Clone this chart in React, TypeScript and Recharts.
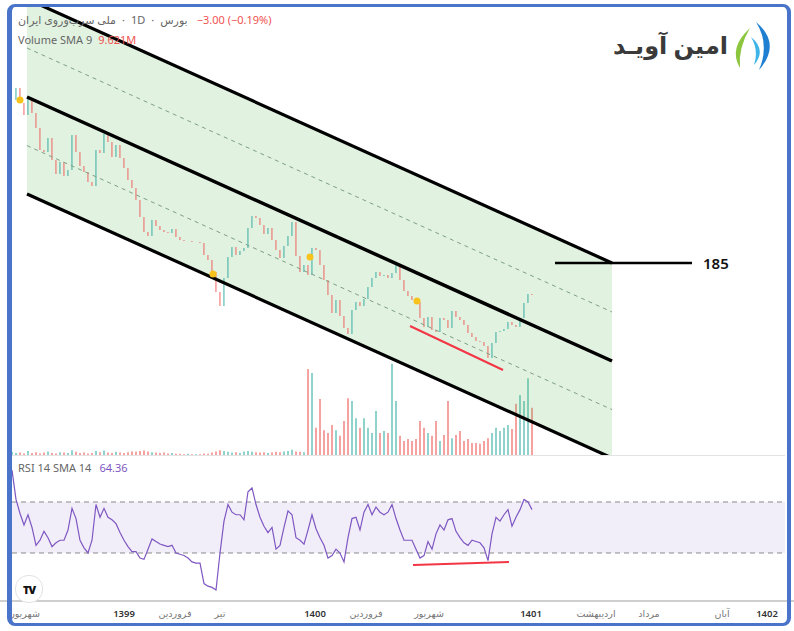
import React from "react";
import {
  Area,
  Bar,
  Cell,
  ComposedChart,
  Line,
  ReferenceArea,
  ReferenceDot,
  ReferenceLine,
  XAxis,
  YAxis,
} from "recharts";

// daily closes (one every ~4px of the original)
const closes = [
  2555, 2615, 2540, 2480, 2565, 2490, 2415, 2305, 2295, 2365,
  2255, 2185, 2245, 2175, 2205, 2380, 2295, 2225, 2195, 2145,
  2125, 2305, 2290, 2385, 2345, 2270, 2330, 2265, 2215, 2155,
  2115, 2055, 1970, 1895, 1875, 1955, 1925, 1905, 1895, 1890,
  1910, 1870, 1855, 1850, 1850, 1845, 1845, 1840, 1780, 1755,
  1695, 1595, 1525, 1665, 1770, 1820, 1780, 1800, 1815, 1915,
  1975, 1965, 1930, 1885, 1915, 1855, 1805, 1765, 1825, 1875,
  1945, 1775, 1695, 1730, 1680, 1815, 1805, 1730, 1655, 1580,
  1490, 1555, 1475, 1415, 1385, 1505, 1545, 1525, 1560, 1620,
  1665, 1695, 1675, 1680, 1665, 1690, 1735, 1655, 1600, 1575,
  1555, 1545, 1465, 1420, 1470, 1405, 1395, 1465, 1455, 1415,
  1500, 1470, 1455, 1430, 1390, 1370, 1350, 1345, 1325, 1265,
  1340, 1395, 1400, 1410, 1445, 1430, 1420, 1465, 1540, 1585,
  1580,
];

// volume in millions
const volumes = [
  0.8, 0.5, 0.6, 0.4, 1.0, 0.5, 0.7, 0.4, 0.6, 0.9,
  0.5, 0.4, 0.7, 0.6, 0.5, 1.2, 0.8, 0.5, 0.6, 0.4,
  0.5, 1.0, 0.7, 1.1, 0.6, 0.5, 0.8, 0.6, 0.5, 0.7,
  0.9, 0.8, 1.0, 1.1, 0.9, 0.7, 0.6, 0.5, 0.6, 0.4,
  0.5, 0.3, 0.3, 0.2, 0.3, 0.2, 0.2, 0.2, 0.4, 0.3,
  0.6, 0.9, 1.2, 1.0, 0.8, 0.6, 0.7, 0.5, 0.9, 1.0,
  0.8, 0.7, 0.6, 0.7, 0.5, 0.6, 0.8, 0.7, 0.9, 1.0,
  1.3, 0.9, 0.8, 0.7, 21.5, 20.5, 6.8, 14, 6.2, 5.5,
  7.5, 6.2, 4.8, 8.5, 14.2, 13.5, 9.2, 6.8, 9.2, 6.8,
  5.5, 11, 5.5, 6, 5.5, 22.8, 13.5, 4.8, 3.5, 4,
  3.5, 4, 8.5, 6.8, 5.5, 4.8, 8.5, 3.5, 5, 13.5,
  4.2, 5, 6, 3.5, 4, 3, 3, 2.8, 3.5, 4.2,
  5.5, 6.8, 6, 6.8, 7.5, 6.5, 12.8, 15, 13.5, 19.2,
  11.8,
];

const rsiValues = [
  95, 72, 61, 52, 60, 50, 36, 40, 47, 42,
  35, 38, 40, 40, 48, 65, 57, 40, 34, 30,
  40, 68, 58, 65, 58, 56, 53, 46, 40, 35,
  31, 31, 26, 25, 33, 41, 39, 37, 36, 35,
  36, 30, 29, 28, 26, 23, 22, 22, 6, 4,
  3, 1, 30, 55, 68, 62, 60, 60, 56, 78,
  81, 68, 58, 51, 46, 50, 33, 36, 50, 63,
  60, 42, 40, 37, 48, 60, 49, 42, 36, 26,
  28, 33, 30, 23, 42, 57, 58, 48, 62, 68,
  60, 66, 62, 60, 62, 68, 57, 48, 40, 40,
  40, 33, 26, 28, 39, 33, 45, 52, 48, 56,
  57, 47, 42, 38, 36, 40, 39, 38, 34, 24,
  45, 58, 55, 60, 64, 51, 58, 64, 72, 70,
  64,
];

const timeTicks = [3.25, 28, 40.75, 52, 75.75, 88.5, 104.25, 129.75, 146, 159.25, 177.5, 188.75];
const timeLabels = ["شهریور", "1399", "فروردین", "تیر", "1400", "فروردین", "شهریور", "1401", "اردیبهشت", "مرداد", "آبان", "1402"];

// parallel channel drawn on the chart (bar index, price)
const channelX = [3.75, 150];
const channelTop = [3060, 1740];
const channelUpperDash = [2815, 1495];
const channelMid = [2570, 1250];
const channelLowerDash = [2327, 1007];
const channelBottom = [2085, 765];

const markers = [
  { x: 2, y: 2555 },
  { x: 50.25, y: 1685 },
  { x: 74.5, y: 1770 },
  { x: 101.25, y: 1550 },
];
const targetX = [135.75, 170];
const targetPrice = 1740;
const targetLabel = "185";
const priceDivergence = [{ x: 99.5, y: 1425 }, { x: 122.75, y: 1205 }];
const rsiDivergence = [{ x: 100.25, y: 20.6 }, { x: 124.25, y: 23 }];

const UP = "#26a69a";
const DOWN = "#ef5350";
const X_DOMAIN: [number, number] = [-3, 195.5];
const FONT = "'Noto Sans', 'DejaVu Sans', sans-serif";

const bars = closes.map((c, i) => {
  const o = i > 0 ? closes[i - 1] : c;
  return {
    x: i,
    body: [Math.min(o, c), Math.max(o, c)],
    up: c >= o,
    vol: volumes[i],
    rsi: rsiValues[i],
  };
});

const band = [
  { x: channelX[0], band: [channelBottom[0], channelTop[0]] },
  { x: channelX[1], band: [channelBottom[1], channelTop[1]] },
];

const seg = (a: number[]) => [
  { x: channelX[0], y: a[0] },
  { x: channelX[1], y: a[1] },
];

const TargetLabel = (props: any) => {
  const { viewBox } = props;
  return (
    <text x={viewBox.x + viewBox.width + 11} y={viewBox.y + 6} fontSize={15} fontWeight={600} fill="#111" fontFamily={FONT}>
      {targetLabel}
    </text>
  );
};

const legendRow: React.CSSProperties = {
  position: "absolute",
  left: 18,
  display: "flex",
  gap: 6,
  fontSize: 11,
  color: "#666",
  whiteSpace: "nowrap",
  direction: "ltr",
};

const App = () => {
  return (
    <div style={{ position: "absolute", left: 0, top: 0, width: 794, height: 631, background: "#fff", overflow: "hidden", fontFamily: FONT }}>
      {/* volume */}
      <div style={{ position: "absolute", left: 0, top: 7 }}>
        <ComposedChart width={794} height={448} data={bars} margin={{ top: 0, right: 0, bottom: 0, left: 0 }}>
          <XAxis dataKey="x" type="number" domain={X_DOMAIN} hide allowDataOverflow />
          <YAxis domain={[0, 112]} hide allowDataOverflow />
          <Bar dataKey="vol" barSize={2} isAnimationActive={false}>
            {bars.map((d, i) => (
              <Cell key={i} fill={d.up ? "#8fd3cc" : "#f5a3a1"} />
            ))}
          </Bar>
        </ComposedChart>
      </div>

      {/* price pane */}
      <div style={{ position: "absolute", left: 0, top: 7 }}>
        <ComposedChart width={794} height={448} data={bars} margin={{ top: 0, right: 0, bottom: 0, left: 0 }}>
          <XAxis dataKey="x" type="number" domain={X_DOMAIN} hide allowDataOverflow />
          <YAxis domain={[780, 3020]} hide allowDataOverflow />
          <Area data={band} dataKey="band" type="linear" stroke="none" fill="rgba(76,175,80,0.17)" fillOpacity={1} dot={false} activeDot={false} isAnimationActive={false} />
          <ReferenceLine segment={seg(channelUpperDash)} stroke="#7f9f84" strokeDasharray="4 4" ifOverflow="hidden" />
          <ReferenceLine segment={seg(channelLowerDash)} stroke="#7f9f84" strokeDasharray="4 4" ifOverflow="hidden" />
          <Bar dataKey="body" barSize={3} isAnimationActive={false}>
            {bars.map((d, i) => (
              <Cell key={i} fill={d.up ? UP : DOWN} />
            ))}
          </Bar>
          <ReferenceLine segment={seg(channelTop)} stroke="#000" strokeWidth={3.2} ifOverflow="hidden" />
          <ReferenceLine segment={seg(channelMid)} stroke="#000" strokeWidth={3.5} ifOverflow="hidden" />
          <ReferenceLine segment={seg(channelBottom)} stroke="#000" strokeWidth={3.2} ifOverflow="hidden" />
          <ReferenceLine
            segment={[{ x: targetX[0], y: targetPrice }, { x: targetX[1], y: targetPrice }]}
            stroke="#000"
            strokeWidth={2.5}
            label={<TargetLabel />}
          />
          <ReferenceLine segment={priceDivergence} stroke="#f23645" strokeWidth={2} />
          {markers.map((m, i) => (
            <ReferenceDot key={i} x={m.x} y={m.y} r={3.5} fill="#f7c21b" stroke="none" />
          ))}
        </ComposedChart>
      </div>

      {/* legend */}
      <div style={{ ...legendRow, top: 12 }}>
        <span dir="rtl">ملی سرب‌وروی ایران</span>
        <span>·</span>
        <span>1D</span>
        <span>·</span>
        <span dir="rtl">بورس</span>
        <span dir="ltr" style={{ color: "#ef5350", marginLeft: 3 }}>−3.00 (−0.19%)</span>
      </div>
      <div style={{ ...legendRow, top: 32 }}>
        <span>Volume SMA 9</span>
        <span style={{ color: "#ef5350" }}>9.621M</span>
      </div>

      {/* logo */}
      <div style={{ position: "absolute", left: 580, top: 28, width: 148, textAlign: "right", fontSize: 24, fontWeight: 700, color: "#3a3a3a", lineHeight: "34px", direction: "rtl", whiteSpace: "nowrap" }}>
        امین آویـد
      </div>
      <svg style={{ position: "absolute", left: 728, top: 20 }} width={50} height={52}>
        <path d="M 22 8 Q 0 28 12 48 Q 10 28 22 8 Z" fill="#8cc63f" />
        <path d="M 28 2 Q 54 24 31 50 Q 42 24 28 2 Z" fill="#1f7fd0" />
        <path d="M 23 17 Q 39 30 26 45 Q 31 30 23 17 Z" fill="#3fb4e8" />
      </svg>

      {/* pane separator */}
      <div style={{ position: "absolute", left: 11, top: 455, width: 774, height: 1, background: "#e3e3e3" }} />

      {/* RSI pane + time axis */}
      <div style={{ position: "absolute", left: 0, top: 458 }}>
        <ComposedChart width={794} height={164} data={bars} margin={{ top: 0, right: 0, bottom: 0, left: 0 }}>
          <XAxis
            dataKey="x"
            type="number"
            domain={X_DOMAIN}
            allowDataOverflow
            ticks={timeTicks}
            interval={0}
            height={21}
            tickLine={false}
            tickMargin={5}
            tickSize={0}
            axisLine={{ stroke: "#cfcfcf", strokeWidth: 2 }}
            tick={(p: any) => {
              const idx = timeTicks.indexOf(p.payload.value);
              const label = timeLabels[idx];
              const isYear = /^\d+$/.test(label);
              return (
                <text x={p.x} y={p.y + 8} textAnchor="middle" dominantBaseline="middle" fontSize={9.5} fontFamily={FONT} fill={isYear ? "#333" : "#777"} fontWeight={isYear ? 600 : 400}>
                  {label}
                </text>
              );
            }}
          />
          <YAxis domain={[-7.65, 104.5]} hide allowDataOverflow />
          <ReferenceArea x1={0} x2={193.25} y1={30} y2={70} fill="#7e57c2" fillOpacity={0.1} stroke="none" />
          <ReferenceLine segment={[{ x: 0, y: 70 }, { x: 193.25, y: 70 }]} stroke="#8a8a8a" strokeDasharray="5 4" />
          <ReferenceLine segment={[{ x: 0, y: 30 }, { x: 193.25, y: 30 }]} stroke="#8a8a8a" strokeDasharray="5 4" />
          <Line dataKey="rsi" type="linear" stroke="#7e57c2" strokeWidth={1.2} dot={false} activeDot={false} isAnimationActive={false} />
          <ReferenceLine segment={rsiDivergence} stroke="#f23645" strokeWidth={2} />
        </ComposedChart>
      </div>

      <div style={{ ...legendRow, top: 460 }}>
        <span>RSI 14 SMA 14</span>
        <span style={{ color: "#7e57c2", marginLeft: 2 }}>64.36</span>
      </div>

      {/* TradingView badge */}
      <div style={{ position: "absolute", left: 15, top: 575, width: 26, height: 26, borderRadius: 13, border: "1px solid #e2e2e2", background: "#fff", display: "flex", alignItems: "center", justifyContent: "center", fontSize: 11, fontWeight: 900, color: "#111", letterSpacing: -1 }}>
        TV
      </div>

      {/* frame */}
      <div style={{ position: "absolute", left: 7, top: 4, width: 775, height: 616, borderStyle: "solid", borderColor: "#4a74c9", borderWidth: "3px 4px 3px 5px", borderRadius: 8, pointerEvents: "none" }} />
    </div>
  );
};

export default App;
